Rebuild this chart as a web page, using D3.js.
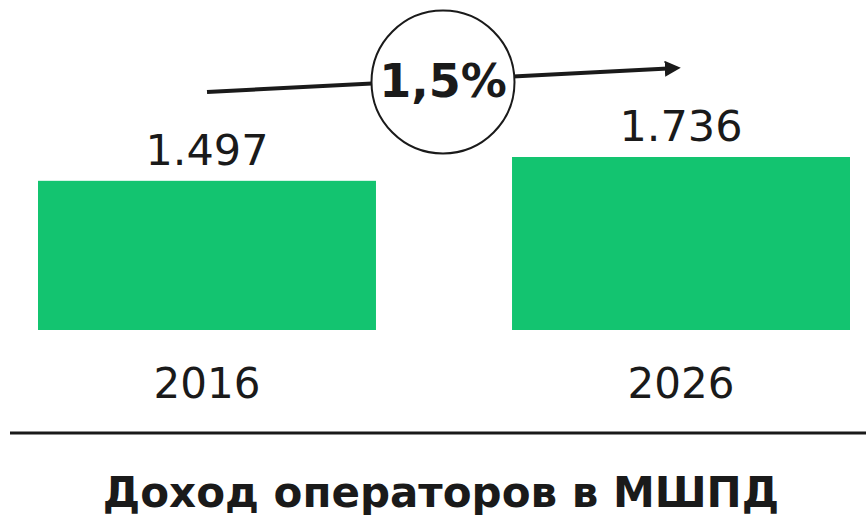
<!DOCTYPE html>
<html>
<head>
<meta charset="utf-8">
<script src="https://cdn.jsdelivr.net/npm/d3@7"></script>
<style>
	body { margin: 0; background: #fff; }
	text { font-family: "DejaVu Sans", Verdana, sans-serif; fill: #1a1a1a; }
</style>
</head>
<body>
<div id="chart"></div>
<script>
//Data
const years = ['2016', '2026'];
const values = [1.497, 1.736];
const valueLabels = ['1.497', '1.736'];
const growthLabel = '1,5%';
const title = 'Доход операторов в МШПД';

const w = 866, h = 515;
const svg = d3.select('#chart').append('svg').attr('width', w).attr('height', h);

//Scales
const x = d3.scaleBand().domain(years).range([38, 850]).paddingInner(0.287).paddingOuter(0);
const y = d3.scaleLinear().domain([0, d3.max(values)]).range([330, 157]);

//Bars
svg.selectAll('.bar')
	.data(values)
	.enter()
	.append('rect').attr('class', 'bar')
	.attr('x', (d, i) => x(years[i]))
	.attr('y', d => y(d))
	.attr('width', x.bandwidth())
	.attr('height', d => y(0) - y(d))
	.style('fill', '#13c470');

//Value labels
svg.selectAll('.val')
	.data(values)
	.enter()
	.append('text').attr('class', 'val')
	.attr('x', (d, i) => x(years[i]) + x.bandwidth() / 2)
	.attr('y', d => y(d) - 16)
	.attr('text-anchor', 'middle')
	.style('font-size', '43px')
	.text((d, i) => valueLabels[i]);

//Year labels
svg.selectAll('.year')
	.data(years)
	.enter()
	.append('text').attr('class', 'year')
	.attr('x', d => x(d) + x.bandwidth() / 2)
	.attr('y', 398)
	.attr('text-anchor', 'middle')
	.style('font-size', '42px')
	.text(d => d);

//Baseline rule
svg.append('line')
	.attr('x1', 10).attr('x2', w)
	.attr('y1', 433).attr('y2', 433)
	.style('stroke', '#1a1a1a')
	.style('stroke-width', 3);

//Growth arrow
svg.append('defs').append('marker')
	.attr('id', 'head')
	.attr('viewBox', '0 0 10 10')
	.attr('refX', 2).attr('refY', 5)
	.attr('markerWidth', 4).attr('markerHeight', 4)
	.attr('orient', 'auto')
	.append('path').attr('d', 'M0,0L10,5L0,10Z').style('fill', '#1a1a1a');

svg.append('line')
	.attr('x1', 207).attr('y1', 92)
	.attr('x2', 668).attr('y2', 68.5)
	.style('stroke', '#1a1a1a')
	.style('stroke-width', 4)
	.attr('marker-end', 'url(#head)');

svg.append('circle')
	.attr('cx', 443).attr('cy', 82).attr('r', 71.5)
	.style('fill', '#fff')
	.style('stroke', '#1a1a1a')
	.style('stroke-width', 2);

svg.append('text')
	.attr('x', 443).attr('y', 97)
	.attr('text-anchor', 'middle')
	.style('font-size', '46px')
	.style('font-weight', 'bold')
	.text(growthLabel);

//Title
svg.append('text')
	.attr('x', 441).attr('y', 507)
	.attr('text-anchor', 'middle')
	.style('font-size', '42px')
	.style('font-weight', 'bold')
	.text(title);
</script>
</body>
</html>
